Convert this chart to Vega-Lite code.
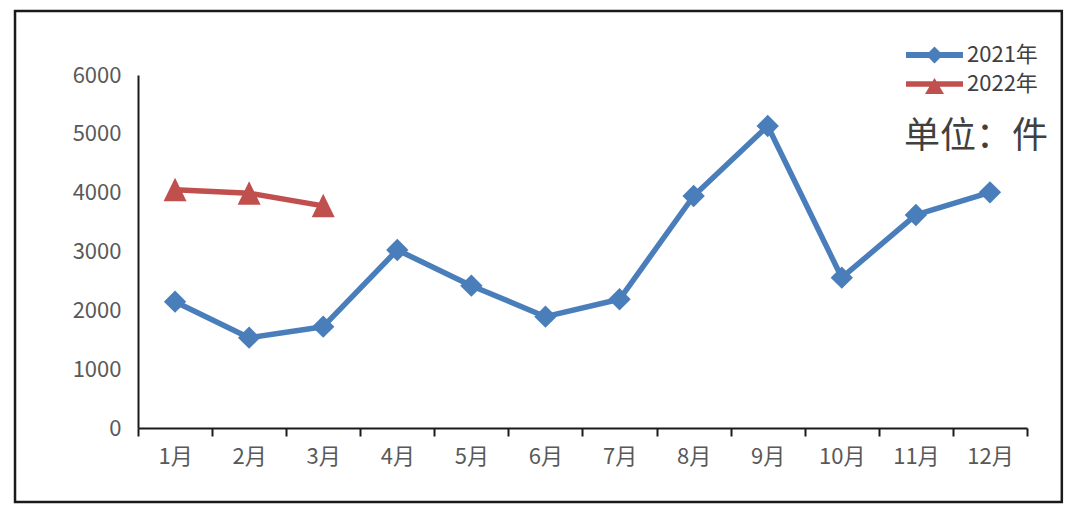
{
  "$schema": "https://vega.github.io/schema/vega-lite/v6.json",
  "width": 889,
  "height": 353,
  "autosize": "none",
  "padding": {"left": 138, "top": 75, "right": 53, "bottom": 83},
  "background": "white",
  "config": {
    "font": "Noto Sans CJK SC",
    "view": {"stroke": null}
  },
  "resolve": {"scale": {"x": "independent"}},
  "layer": [
    {
      "data": {"values": [{"frame": "outer", "unit": "单位：件"}]},
      "encoding": {
        "x": {"datum": -1.66, "type": "quantitative", "scale": {"domain": [0, 12], "nice": false, "zero": false}, "axis": null},
        "y": {
          "datum": 7089,
          "type": "quantitative",
          "scale": {"domain": [0, 6000], "nice": false},
          "axis": {
            "title": null,
            "values": [0, 1000, 2000, 3000, 4000, 5000, 6000],
            "format": "d",
            "ticks": false,
            "tickSize": 0,
            "labelPadding": 17,
            "labelFontSize": 22,
            "labelColor": "#595959",
            "domainColor": "#1a1a1a",
            "domainWidth": 2,
            "grid": false
          }
        }
      },
      "layer": [
        {
          "mark": {"type": "rect", "filled": false, "fill": null, "stroke": "#1a1a1a", "strokeWidth": 2.5},
          "encoding": {
            "x2": {"datum": 12.47},
            "y2": {"datum": -1256}
          }
        },
        {
          "mark": {"type": "text", "align": "right", "baseline": "middle", "fontSize": 36, "font": "Noto Sans CJK SC", "color": "#404040"},
          "encoding": {
            "x": {"datum": 12.284, "type": "quantitative"},
            "y": {"datum": 4948, "type": "quantitative"},
            "text": {"field": "unit"}
          }
        }
      ]
    },
    {
      "data": {
        "values": [
          {"month": "1月", "year": "2021年", "value": 2147},
          {"month": "2月", "year": "2021年", "value": 1535},
          {"month": "3月", "year": "2021年", "value": 1722},
          {"month": "4月", "year": "2021年", "value": 3026},
          {"month": "5月", "year": "2021年", "value": 2419},
          {"month": "6月", "year": "2021年", "value": 1892},
          {"month": "7月", "year": "2021年", "value": 2188},
          {"month": "8月", "year": "2021年", "value": 3943},
          {"month": "9月", "year": "2021年", "value": 5133},
          {"month": "10月", "year": "2021年", "value": 2555},
          {"month": "11月", "year": "2021年", "value": 3621},
          {"month": "12月", "year": "2021年", "value": 4006},
          {"month": "1月", "year": "2022年", "value": 4048},
          {"month": "2月", "year": "2022年", "value": 3990},
          {"month": "3月", "year": "2022年", "value": 3776}
        ]
      },
      "encoding": {
        "x": {
          "field": "month",
          "type": "ordinal",
          "sort": ["1月", "2月", "3月", "4月", "5月", "6月", "7月", "8月", "9月", "10月", "11月", "12月"],
          "scale": {"type": "band", "paddingInner": 0, "paddingOuter": 0},
          "axis": {
            "title": null,
            "labelAngle": 0,
            "labelFontSize": 22,
            "labelColor": "#595959",
            "labelPadding": 10,
            "tickBand": "extent",
            "tickSize": 8,
            "tickWidth": 2,
            "tickColor": "#1a1a1a",
            "domainColor": "#1a1a1a",
            "domainWidth": 2,
            "grid": false
          }
        },
        "y": {
          "field": "value",
          "type": "quantitative",
          "scale": {"domain": [0, 6000], "nice": false},
          "axis": {
            "title": null,
            "values": [0, 1000, 2000, 3000, 4000, 5000, 6000],
            "format": "d",
            "ticks": false,
            "tickSize": 0,
            "labelPadding": 17,
            "labelFontSize": 22,
            "labelColor": "#595959",
            "domainColor": "#1a1a1a",
            "domainWidth": 2,
            "grid": false
          }
        },
        "color": {
          "field": "year",
          "type": "nominal",
          "scale": {"domain": ["2021年", "2022年"], "range": ["#4A7EBB", "#C0504D"]},
          "legend": {
            "orient": "none",
            "legendX": 785.5,
            "legendY": -31,
            "title": null,
            "symbolSize": 400,
            "symbolStrokeWidth": 0,
            "labelFontSize": 22,
            "labelColor": "#404040",
            "labelFont": "Noto Sans CJK SC",
            "labelOffset": 21.5,
            "rowPadding": 7,
            "padding": 0
          }
        }
      },
      "layer": [
        {
          "mark": {"type": "line", "strokeWidth": 5.5, "strokeJoin": "round", "strokeCap": "round"}
        },
        {
          "transform": [{"filter": "datum.year === '2021年'"}],
          "mark": {"type": "point", "shape": "diamond", "filled": true, "opacity": 1, "size": 500}
        },
        {
          "transform": [{"filter": "datum.year === '2022年'"}],
          "mark": {"type": "point", "shape": "M0,-1.05L1,1L-1,1Z", "filled": true, "opacity": 1, "size": 529}
        },
        {
          "transform": [{"filter": "false"}],
          "mark": {"type": "point", "filled": true, "opacity": 1},
          "encoding": {
            "shape": {
              "field": "year",
              "type": "nominal",
              "scale": {
                "domain": ["2021年", "2022年"],
                "range": [
                  "M-2.85,-0.3L2.85,-0.3L2.85,0.3L-2.85,0.3Z M0,-0.85L0.85,0L0,0.85L-0.85,0Z",
                  "M-2.85,-0.27L2.85,-0.27L2.85,0.27L-2.85,0.27Z M0,-0.6L0.95,1L-0.95,1Z"
                ]
              },
              "legend": {
                "orient": "none",
                "legendX": 785.5,
                "legendY": -31,
                "title": null,
                "symbolSize": 400,
                "symbolStrokeWidth": 0,
                "labelFontSize": 22,
                "labelColor": "#404040",
                "labelFont": "Noto Sans CJK SC",
                "labelOffset": 21.5,
                "rowPadding": 7,
                "padding": 0
              }
            }
          }
        }
      ]
    }
  ]
}
